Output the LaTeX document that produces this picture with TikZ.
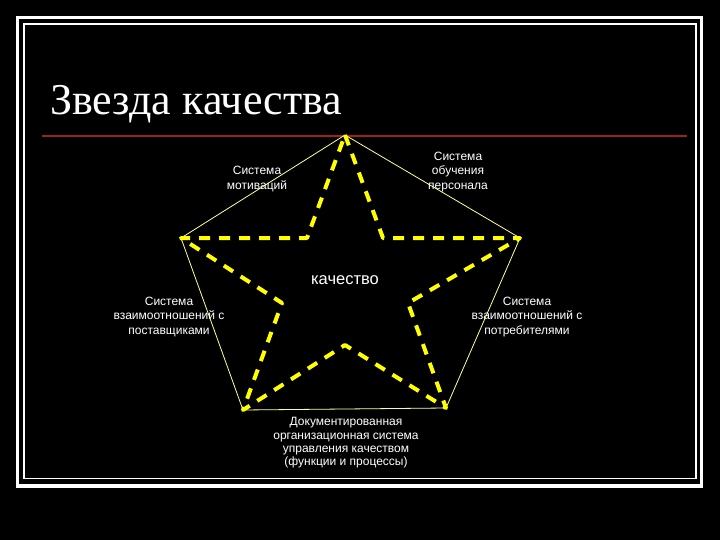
\documentclass[tikz,border=0pt]{standalone}
\usepackage{fontspec}
\setmainfont{Liberation Serif}
\setsansfont{Liberation Sans}
\usepackage{tikz}

\definecolor{rulered}{RGB}{155,35,25}
\definecolor{edgeyellow}{RGB}{255,255,150}
\definecolor{staryellow}{RGB}{255,255,0}

\begin{document}
\begin{tikzpicture}[x=1pt,y=-1pt,
        lbl/.style={text=white,font=\sffamily\fontsize{12}{14.3}\selectfont,align=center,inner sep=0pt},
        starline/.style={staryellow,line width=4pt,dash pattern=on 11pt off 9pt,line join=round}]
                \path [use as bounding box,fill=black] (0,0) rectangle (720,540);
                \draw [white,line width=3.5pt] (17.5,17.5) rectangle (701.5,486);
                \draw [white,line width=1.2pt] (24,24) rectangle (696,478.5);
                \node [anchor=base west,text=white,inner sep=0pt,font=\fontsize{44}{50}\selectfont] (title) at (50,115) {Звезда качества};
                \coordinate (rl) at (42,136);
                \coordinate (rr) at (687,136);
                \draw [rulered,line width=1.1pt] (rl) -- (rr);
                \coordinate (t) at (345,135);
                \coordinate (r) at (520,238);
                \coordinate (br) at (446,408);
                \coordinate (bl) at (243,410);
                \coordinate (l) at (181,238);
                \coordinate (itr) at (383,238);
                \coordinate (ir) at (408,303);
                \coordinate (ib) at (345,345);
                \coordinate (il) at (282,303);
                \coordinate (itl) at (307,238);
                \draw [edgeyellow,line width=0.8pt] (t) -- (r) -- (br) -- (bl) -- (l) -- cycle;
                \draw [starline] (t) -- (itr) -- (r) -- (ir) -- (br) -- (ib) -- (bl) -- (il) -- (l) -- (itl) -- cycle;
                \node [lbl] (motiv) at (257,179) {Система\\мотиваций};
                \node [lbl] (train) at (458,172) {Система\\обучения\\персонала};
                \node [lbl,font=\sffamily\fontsize{16.5}{18}\selectfont] (quality) at (345,280) {качество};
                \node [lbl] (suppl) at (169,317) {Система\\взаимоотношений с\\поставщиками};
                \node [lbl] (cust) at (527,317) {Система\\взаимоотношений с\\потребителями};
                \node [lbl,font=\sffamily\fontsize{12}{13.4}\selectfont] (docs) at (346,443) {Документированная\\организационная система\\управления качеством\\(функции и процессы)};
            \end{tikzpicture}
\end{document}
